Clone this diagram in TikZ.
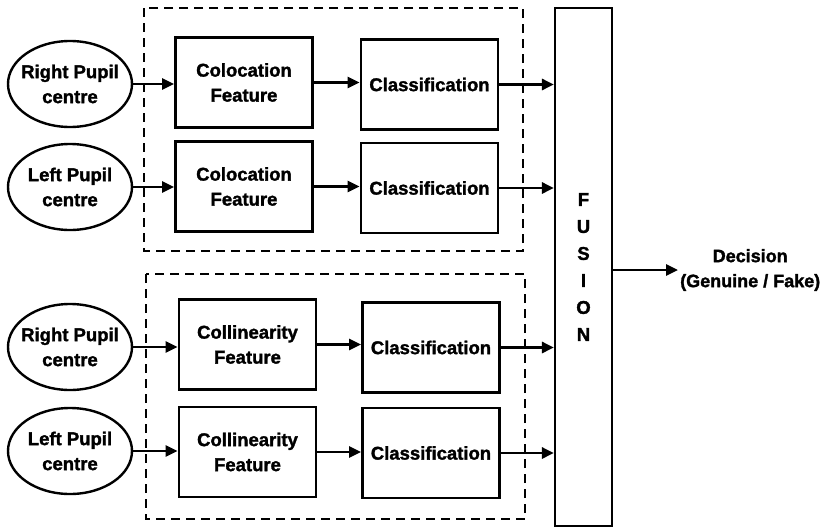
\documentclass[tikz,border=0pt]{standalone}
\usepackage{fontspec}
\setmainfont{Liberation Sans}
\newfontfamily\heavy{Liberation Sans Bold}[FakeBold=1.6]
\usetikzlibrary{shapes.geometric,arrows.meta}
\begin{document}
\begin{tikzpicture}[x=1pt,y=-1pt,
  every node/.style={font=\heavy\fontsize{18.5}{25}\selectfont, align=center},
  pupil/.style={draw, line width=2.4pt, ellipse, minimum width=124pt, minimum height=86pt, inner xsep=-6pt, inner ysep=0pt},
  blk/.style={draw, line width=2.8pt, rectangle, minimum width=137pt, minimum height=90pt, inner sep=0pt},
  arr/.style={line width=2.8pt, -{Triangle[length=12pt,width=11pt]}},
  grp/.style={draw, line width=1.4pt, dash pattern=on 9pt off 6pt}]
\useasboundingbox (0,0) rectangle (829,530);
% groups
\draw[grp] (144,8) rectangle (523,251);
\draw[grp] (146,274) rectangle (525,519);
% inputs
\node[pupil] (p1) at (70,84) {Right Pupil\\centre};
\node[pupil] (p2) at (70,187) {Left Pupil\\centre};
\node[pupil] (p3) at (70,347) {Right Pupil\\centre};
\node[pupil] (p4) at (70,451) {Left Pupil\\centre};
% features
\node[blk] (c1) at (244,82.5) {Colocation\\Feature};
\node[blk] (c2) at (244,186.5) {Colocation\\Feature};
\node[blk] (c3) at (247.5,344.5) {Collinearity\\Feature};
\node[blk] (c4) at (247.5,452) {Collinearity\\Feature};
% classification
\node[blk] (k1) at (429.5,84.5) {Classification};
\node[blk] (k2) at (429.5,188) {Classification};
\node[blk] (k3) at (431,347.5) {Classification};
\node[blk] (k4) at (431,453) {Classification};
% fusion
\node[draw, line width=2.2pt, minimum width=57pt, minimum height=518pt, inner sep=0pt,
      font=\heavy\fontsize{18.5}{27}\selectfont] (fus) at (583.5,267) {F\\U\\S\\I\\O\\N};
% decision
\node[anchor=west, inner sep=2pt, font=\heavy\fontsize{18}{25}\selectfont] (dec) at (678,270) {Decision\\(Genuine / Fake)};
% arrows
\foreach \i in {1,2,3,4}{
  \draw[arr] (p\i.east) -- (c\i.west |- p\i.east);
  \draw[arr] (c\i.east) -- (k\i.west |- c\i.east);
  \draw[arr] (k\i.east) -- (fus.west |- k\i.east);
}
\draw[arr] (dec.west -| fus.east) -- (dec.west);
\end{tikzpicture}
\end{document}
